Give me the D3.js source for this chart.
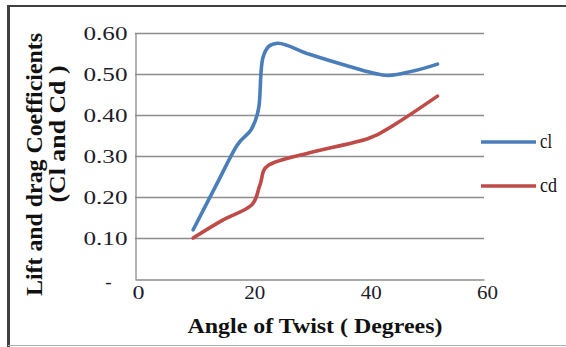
<!DOCTYPE html>
<html>
<head>
<meta charset="utf-8">
<script src="https://cdn.jsdelivr.net/npm/d3@7"></script>
<style>
  html, body { margin: 0; padding: 0; background: #fff; }
  svg { display: block; }
  text { font-family: "Liberation Serif", "Times New Roman", serif; }
</style>
</head>
<body>
<svg id="chart" width="566" height="347"></svg>
<script>
// Twist angle (degrees) and coefficient readings for each series
const clAngles = [10, 14, 17.5, 20, 21.3, 22, 24.5, 30, 36, 43, 48, 52];
const clValues = [0.12, 0.23, 0.325, 0.365, 0.42, 0.54, 0.575, 0.548, 0.522, 0.497, 0.508, 0.524];
const cdAngles = [10, 15, 20, 21.5, 23, 30, 40, 45, 52];
const cdValues = [0.10, 0.143, 0.18, 0.23, 0.278, 0.308, 0.342, 0.38, 0.446];

const xTicks = [0, 20, 40, 60];
const yTicks = [0, 0.1, 0.2, 0.3, 0.4, 0.5, 0.6];
const seriesNames = ["cl", "cd"];
const seriesColors = ["#4a7ebb", "#be4b48"];

const svg = d3.select("#chart");

// outer frame
svg.append("line").attr("x1", 7).attr("x2", 566).attr("y1", 6).attr("y2", 6)
  .attr("stroke", "#404040").attr("stroke-width", 2);
svg.append("line").attr("x1", 8.5).attr("x2", 8.5).attr("y1", 5).attr("y2", 347)
  .attr("stroke", "#404040").attr("stroke-width", 3);
svg.append("line").attr("x1", 8).attr("x2", 566).attr("y1", 345.5).attr("y2", 345.5)
  .attr("stroke", "#b0b0b0").attr("stroke-width", 1);

const plot = { left: 135, right: 484, top: 33, bottom: 279 };
const x = d3.scaleLinear().domain([0, 60]).range([plot.left, plot.right]);
const y = d3.scaleLinear().domain([0, 0.6]).range([plot.bottom, plot.top]);

// horizontal gridlines
svg.append("g").selectAll("line").data(yTicks.filter(d => d > 0)).join("line")
  .attr("x1", plot.left).attr("x2", plot.right)
  .attr("y1", d => Math.round(y(d)) + 0.5).attr("y2", d => Math.round(y(d)) + 0.5)
  .attr("stroke", "#8c8c8c").attr("stroke-width", 1.3);

// axes
const yAxis = d3.axisLeft(y).tickValues(yTicks).tickSize(0)
  .tickFormat(d => d === 0 ? "-" : d3.format(".2f")(d));
const gy = svg.append("g").attr("transform", `translate(${plot.left + 0.5},0)`).call(yAxis);
gy.select(".domain").attr("stroke", "#8c8c8c").attr("stroke-width", 1.3);
gy.selectAll("text")
  .attr("x", d => d === 0 ? -24 : -8)
  .attr("dy", d => d === 0 ? "0.45em" : "0.34em")
  .attr("fill", "#1c1c2a").attr("font-size", 19)
  .attr("font-family", "Liberation Serif, serif")
  .attr("textLength", d => d === 0 ? null : 44)
  .attr("lengthAdjust", "spacingAndGlyphs");

const xAxis = d3.axisBottom(x).tickValues(xTicks).tickSize(0).tickFormat(d3.format("d"));
const gx = svg.append("g").attr("transform", `translate(0,${plot.bottom + 0.5})`).call(xAxis);
gx.select(".domain").attr("stroke", "#8c8c8c").attr("stroke-width", 1.3);
gx.selectAll("text")
  .attr("x", 3).attr("y", 19).attr("dy", 0)
  .attr("fill", "#1c1c2a").attr("font-size", 19)
  .attr("font-family", "Liberation Serif, serif")
  .attr("textLength", d => d === 0 ? 12 : 21)
  .attr("lengthAdjust", "spacingAndGlyphs");

// series lines (smoothed)
const line = d3.line().curve(d3.curveCatmullRom.alpha(0))
  .x(d => x(d[0])).y(d => y(d[1]));
const series = [
  d3.zip(clAngles, clValues),
  d3.zip(cdAngles, cdValues)
];
svg.append("g").selectAll("path").data(series).join("path")
  .attr("d", line)
  .attr("fill", "none")
  .attr("stroke", (d, i) => seriesColors[i])
  .attr("stroke-width", 3.6)
  .attr("stroke-linecap", "round")
  .attr("stroke-linejoin", "round");

// legend
const legend = svg.append("g").selectAll("g").data(seriesNames).join("g")
  .attr("transform", (d, i) => `translate(481,${142 + i * 44})`);
legend.append("line").attr("x1", 0).attr("x2", 55).attr("y1", 0).attr("y2", 0)
  .attr("stroke", (d, i) => seriesColors[i]).attr("stroke-width", 3.6);
legend.append("text").attr("x", 59).attr("y", 6)
  .attr("font-size", 20).attr("fill", "#111")
  .attr("textLength", (d, i) => i === 0 ? 12 : 17)
  .attr("lengthAdjust", "spacingAndGlyphs")
  .text(d => d);

// axis titles
svg.append("text")
  .attr("x", 315).attr("y", 333)
  .attr("text-anchor", "middle")
  .attr("font-size", 20).attr("font-weight", "bold").attr("fill", "#111")
  .attr("textLength", 255).attr("lengthAdjust", "spacingAndGlyphs")
  .text("Angle of Twist ( Degrees)");

const yTitle = svg.append("g").attr("transform", "rotate(-90)");
yTitle.append("text")
  .attr("x", -164.5).attr("y", 42)
  .attr("text-anchor", "middle")
  .attr("font-size", 23).attr("font-weight", "bold").attr("fill", "#111")
  .attr("textLength", 263).attr("lengthAdjust", "spacingAndGlyphs")
  .text("Lift and drag Coefficients");
yTitle.append("text")
  .attr("x", -134).attr("y", 65)
  .attr("text-anchor", "middle")
  .attr("font-size", 23).attr("font-weight", "bold").attr("fill", "#111")
  .attr("textLength", 137).attr("lengthAdjust", "spacingAndGlyphs")
  .text("(Cl and Cd )");
</script>
</body>
</html>
